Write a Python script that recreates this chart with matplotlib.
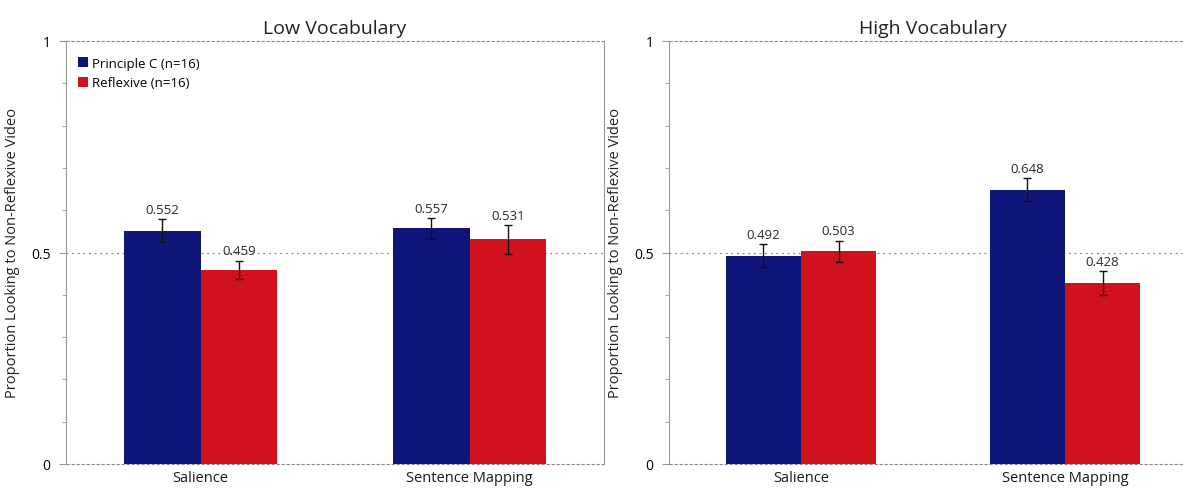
import numpy as np
import matplotlib.pyplot as plt

plt.rcParams['font.family'] = ['Open Sans', 'DejaVu Sans']

# data
categories = ['Salience', 'Sentence Mapping']
series = ['Principle C (n=16)', 'Reflexive (n=16)']
titles = ['Low Vocabulary', 'High Vocabulary']

low_principle = [0.552, 0.557]
low_reflexive = [0.459, 0.531]
low_principle_err = [0.027, 0.024]
low_reflexive_err = [0.022, 0.034]

high_principle = [0.492, 0.648]
high_reflexive = [0.503, 0.428]
high_principle_err = [0.027, 0.027]
high_reflexive_err = [0.025, 0.028]

blue = '#10157a'
red = '#d0121c'
W, H = 1183, 489

fig = plt.figure(figsize=(W / 100, H / 100), dpi=100)
ax1 = fig.add_axes([66 / W, 24 / H, 538 / W, 423 / H])
ax2 = fig.add_axes([669 / W, 24 / H, 528 / W, 423 / H])

panels = [
    (ax1, low_principle, low_reflexive, low_principle_err, low_reflexive_err),
    (ax2, high_principle, high_reflexive, high_principle_err, high_reflexive_err),
]

x = np.arange(len(categories))
bw = 0.285

for i, (ax, pc, rf, pce, rfe) in enumerate(panels):
    ax.bar(x - bw / 2, pc, bw, color=blue, label=series[0], zorder=2)
    ax.bar(x + bw / 2, rf, bw, color=red, label=series[1], zorder=2)
    ax.errorbar(x - bw / 2, pc, yerr=pce, fmt='none', ecolor='#111111',
                elinewidth=1, capsize=3, capthick=1, zorder=3)
    ax.errorbar(x + bw / 2, rf, yerr=rfe, fmt='none', ecolor='#111111',
                elinewidth=1, capsize=3, capthick=1, zorder=3)
    for xs, vals, errs in [(x - bw / 2, pc, pce), (x + bw / 2, rf, rfe)]:
        for xx, v, e in zip(xs, vals, errs):
            ax.text(xx, v + e + 0.008, f'{v:.3f}', ha='center', va='bottom',
                    fontsize=9.5, color='#2a2a2a', zorder=4)

    ax.set_xlim(-0.5, 1.5)
    ax.set_ylim(0, 1)
    ax.set_xticks(x)
    ax.set_xticklabels(categories, fontsize=10.5, color='#1a1a1a')
    ax.tick_params(axis='x', length=0, pad=4)
    ax.set_yticks([0, 0.5, 1])
    ax.set_yticklabels(['0', '0.5', '1'], fontsize=10)
    ax.set_yticks(np.arange(0.1, 1.0, 0.1), minor=True)
    ax.tick_params(axis='y', which='both', color='#999999', direction='out')
    ax.tick_params(axis='y', which='major', length=5, pad=6)
    ax.tick_params(axis='y', which='minor', length=3)

    for s in ['top', 'bottom']:
        ax.spines[s].set_visible(False)
    for s in ['left', 'right']:
        ax.spines[s].set_color('#999999')
        ax.spines[s].set_linewidth(0.8)
    ax.axhline(1, color='#888888', lw=0.8, ls=(0, (3, 1.5)), zorder=1, clip_on=False)
    ax.axhline(0, color='#888888', lw=0.8, ls=(0, (3, 1.5)), zorder=4, clip_on=False)
    ax.axhline(0.5, color='#888888', lw=0.9, ls=(0, (1.5, 3)), zorder=1)

    ax.set_ylabel('Proportion Looking to Non-Reflexive Video', fontsize=10.5,
                  color='#222222', labelpad=8)
    ax.set_title(titles[i], fontsize=14, color='#222222', pad=6)

ax1.legend(loc='upper left', bbox_to_anchor=(0.005, 0.985), frameon=False,
           fontsize=9.5, handlelength=0.8, handleheight=0.8,
           handletextpad=0.3, labelspacing=0.5, borderaxespad=0.3)

fig.savefig('out.png', dpi=100)
